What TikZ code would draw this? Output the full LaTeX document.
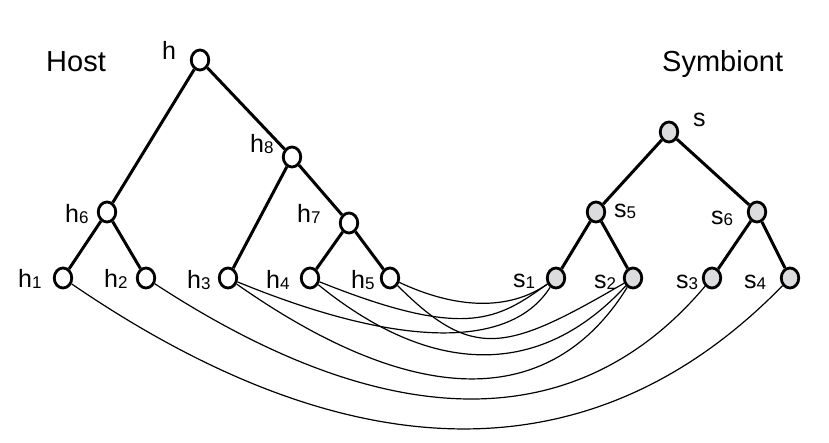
\documentclass[tikz,border=0pt]{standalone}
\usepackage{fontspec}
\setmainfont{Liberation Sans}
\usetikzlibrary{shapes.geometric}
\definecolor{symfill}{RGB}{220,220,222}
\tikzset{
  hnode/.style={ellipse, draw, line width=2.8pt, fill=white, minimum width=17.5pt, minimum height=20pt, inner sep=0pt},
  snode/.style={hnode, fill=symfill},
  treeedge/.style={line width=3pt},
  link/.style={line width=1.2pt},
  lab/.style={anchor=base west, inner sep=0pt, font=\fontsize{25}{25}\selectfont},
  ttl/.style={anchor=base west, inner sep=0pt, font=\fontsize{29}{29}\selectfont},
}
\newcommand{\labsub}[2]{#1\raisebox{-1pt}{\fontsize{17}{17}\selectfont #2}}
\begin{document}
\begin{tikzpicture}[x=1pt,y=-1pt]
\useasboundingbox (0,0) rectangle (829,443);
% titles
\node[ttl] (host) at (46,72) {Host};
\node[ttl] (symb) at (662,72) {Symbiont};
% host tree
\node[hnode] (h)  at (200,60) {};
\node[hnode] (h8) at (292,157) {};
\node[hnode] (h6) at (107,212) {};
\node[hnode] (h7) at (349,223) {};
\node[hnode] (h1) at (63,278) {};
\node[hnode] (h2) at (146,278) {};
\node[hnode] (h3) at (228,278) {};
\node[hnode] (h4) at (310,278) {};
\node[hnode] (h5) at (390,278) {};
% symbiont tree
\node[snode] (s)  at (669,132) {};
\node[snode] (s5) at (596,212) {};
\node[snode] (s6) at (757,212) {};
\node[snode] (s1) at (556,278) {};
\node[snode] (s2) at (633,278) {};
\node[snode] (s3) at (712,278) {};
\node[snode] (s4) at (790,278) {};
% labels
\node[lab] (lh)  at (162,60) {h};
\node[lab] (lh8) at (250,153) {\labsub{h}{8}};
\node[lab] (lh6) at (65,223) {\labsub{h}{6}};
\node[lab] (lh7) at (297,223) {\labsub{h}{7}};
\node[lab] (lh1) at (18,288) {\labsub{h}{1}};
\node[lab] (lh2) at (104,288) {\labsub{h}{2}};
\node[lab] (lh3) at (187,289) {\labsub{h}{3}};
\node[lab] (lh4) at (266,289) {\labsub{h}{4}};
\node[lab] (lh5) at (351,289) {\labsub{h}{5}};
\node[lab] (ls)  at (693,127) {s};
\node[lab] (ls5) at (614,218) {\labsub{s}{5}};
\node[lab] (ls6) at (711,225) {\labsub{s}{6}};
\node[lab] (ls1) at (513,288) {\labsub{s}{1}};
\node[lab] (ls2) at (594,289) {\labsub{s}{2}};
\node[lab] (ls3) at (676,289) {\labsub{s}{3}};
\node[lab] (ls4) at (744,289) {\labsub{s}{4}};
% tree edges
\draw[treeedge] (h) -- (h6);
\draw[treeedge] (h) -- (h8);
\draw[treeedge] (h8) -- (h3);
\draw[treeedge] (h8) -- (h7);
\draw[treeedge] (h7) -- (h4);
\draw[treeedge] (h7) -- (h5);
\draw[treeedge] (h6) -- (h1);
\draw[treeedge] (h6) -- (h2);
\draw[treeedge] (s) -- (s5);
\draw[treeedge] (s) -- (s6);
\draw[treeedge] (s5) -- (s1);
\draw[treeedge] (s5) -- (s2);
\draw[treeedge] (s6) -- (s3);
\draw[treeedge] (s6) -- (s4);
% associations
\draw[link] (h1) .. controls +(291,199) and +(-194,199) .. (s4);
\draw[link] (h2) .. controls +(243,159) and +(-134,159) .. (s3);
\draw[link] (h3) .. controls +(188,132) and +(-82,132) .. (s2);
\draw[link] (h4) .. controls +(123,100) and +(-92,100) .. (s2);
\draw[link] (h5) .. controls +(83,83) and +(-127,74) .. (s2);
\draw[link] (h3) .. controls +(173,71) and +(-45,71) .. (s1);
\draw[link] (h4) .. controls +(157,63) and +(-58,41) .. (s1);
\draw[link] (h5) .. controls +(66,31) and +(-47,33) .. (s1);
\end{tikzpicture}
\end{document}
